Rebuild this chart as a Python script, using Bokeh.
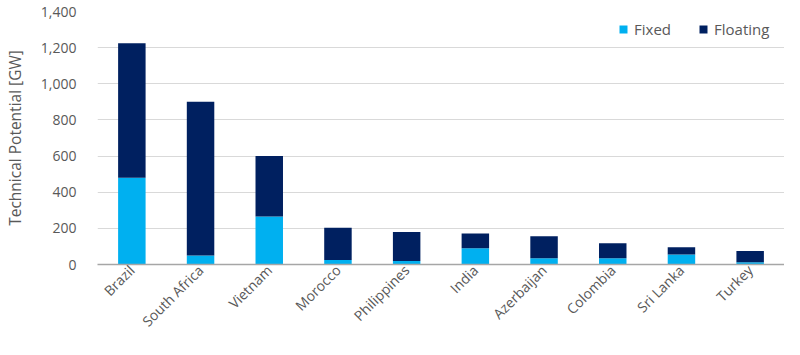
from bokeh.plotting import figure
from bokeh.models import ColumnDataSource, FactorRange, Range1d, FixedTicker, NumeralTickFormatter
from bokeh.embed import file_html
from bokeh.resources import INLINE
import math

countries = ["Brazil", "South Africa", "Vietnam", "Morocco", "Philippines",
             "India", "Azerbaijan", "Colombia", "Sri Lanka", "Turkey"]
fixed = [480, 50, 265, 25, 20, 90, 35, 35, 55, 12]
floating_total = [1225, 900, 600, 203, 180, 172, 157, 117, 95, 75]
floating = [t - f for t, f in zip(floating_total, fixed)]
y_ticks = [0, 200, 400, 600, 800, 1000, 1200, 1400]

source = ColumnDataSource(data=dict(country=countries, fixed=fixed, floating=floating))

FONT = "Open Sans"
GRAY = "#595959"

p = figure(width=784, height=339, x_range=FactorRange(factors=countries, range_padding=0),
           y_range=Range1d(0, 1400), output_backend="svg", toolbar_location=None,
           min_border_left=85, min_border_right=0, min_border_top=11, min_border_bottom=0)
p.outline_line_color = None

r = p.vbar_stack(["fixed", "floating"], x="country", width=0.4, source=source,
                 fill_color=["#00B0F0", "#002060"], line_color=None,
                 legend_label=["Fixed", "Floating"])

p.xgrid.grid_line_color = None
p.ygrid.grid_line_color = "#D9D9D9"
p.ygrid.grid_line_width = 1
p.yaxis.ticker = FixedTicker(ticks=y_ticks)
p.yaxis.formatter = NumeralTickFormatter(format="0,0")
p.yaxis.axis_line_color = None
p.yaxis.major_tick_line_color = None
p.yaxis.minor_tick_line_color = None
p.yaxis.major_label_standoff = 15
p.yaxis.major_label_text_font = FONT
p.yaxis.major_label_text_font_size = "14px"
p.yaxis.major_label_text_color = GRAY
p.yaxis.axis_label = "Technical Potential [GW]"
p.yaxis.axis_label_text_font = FONT
p.yaxis.axis_label_text_font_size = "15.5px"
p.yaxis.axis_label_text_font_style = "normal"
p.yaxis.axis_label_text_color = GRAY
p.yaxis.axis_label_standoff = 12

p.xaxis.axis_line_color = "#A6A6A6"
p.xaxis.axis_line_width = 1.5
p.xaxis.major_tick_line_color = None
p.xaxis.minor_tick_line_color = None
p.xaxis.major_tick_out = 0
p.xaxis.major_tick_in = 0
p.xaxis.major_label_orientation = math.pi / 4
p.xaxis.major_label_standoff = 3
p.xaxis.major_label_text_font = FONT
p.xaxis.major_label_text_font_size = "14px"
p.xaxis.major_label_text_color = GRAY

lg = p.legend[0]
lg.location = "top_right"
lg.orientation = "horizontal"
lg.background_fill_alpha = 0
lg.border_line_color = None
lg.margin = 8
lg.padding = 5
lg.spacing = 2
lg.label_width = 62
lg.glyph_width = 10
lg.glyph_height = 10
lg.label_standoff = 6
lg.label_text_font = FONT
lg.label_text_font_size = "15px"
lg.label_text_color = GRAY

open("out.html", "w").write(file_html(p, INLINE))
